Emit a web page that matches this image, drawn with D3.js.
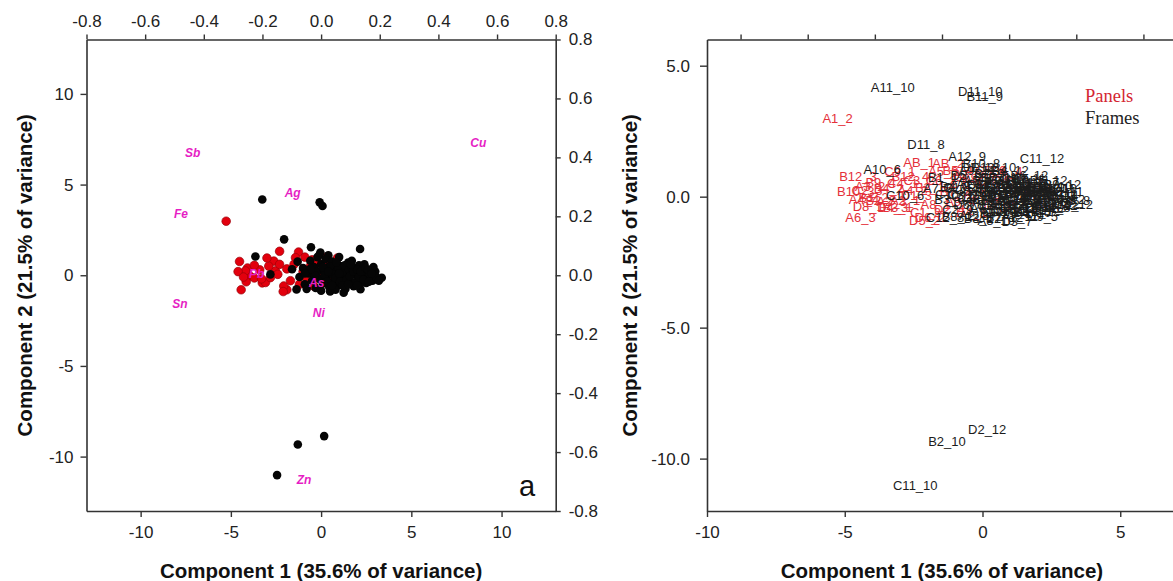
<!DOCTYPE html>
<html>
<head>
<meta charset="utf-8">
<script src="https://cdn.jsdelivr.net/npm/d3@7"></script>
<style>
  html, body { margin: 0; padding: 0; background: #ffffff; }
  svg { display: block; }
  .tick text { font-family: "Liberation Sans", Arial, sans-serif; fill: #222; }
  .tick line, .domain { stroke: #333; }
</style>
</head>
<body>
<svg id="chart" width="1173" height="581"></svg>
<script>
// PCA scores: wooden panels (red) and frames (black)
const panelLabels = ["A1_2","B12_3","A6_3","A3_2","B1_2","D8_1","D4_3","B12_4","AB_1","AB_2",
  "D6_2","B3_1","A2_1","C1_2","B2_3","A4_2","A5_3","C2_3","B5_4","A7_3",
  "C5_6","B6_4","D5_2","C3_2","B4_2","A2_3","C4_1","D1_3","B2_1","A8_1",
  "C6_3","D2_4","B7_2","A9_4","C7_3","D4_1","B8_3","A10_3","C8_4","D7_2",
  "B9_4","C9_1","B10_3","A4_4"];
const panelPC1 = [-5.26,-4.52,-4.43,-4.08,-3.95,-4.15,-3.26,-2.62,-2.30,-1.25,
  -1.90,-3.08,-2.81,-2.07,-3.70,-2.53,-1.42,-4.19,-0.90,-0.50,
  0.30,0.90,-2.10,-2.30,-3.40,-3.30,-2.90,-2.40,-1.90,-1.70,
  -1.50,-1.20,-1.00,-0.80,-0.60,-0.40,-0.20,0.00,0.40,0.60,
  -3.70,-3.00,-4.60,-4.30];
const panelPC2 = [2.98,0.76,-0.80,0.40,-0.04,-0.36,-0.42,0.78,1.32,1.28,
  -0.80,-0.40,-0.13,-0.59,-0.15,0.24,0.97,0.24,1.00,0.85,
  1.00,0.95,-0.90,0.60,0.30,-0.20,0.50,0.05,0.35,-0.30,
  0.60,-0.50,0.20,-0.20,0.50,-0.60,0.70,0.10,0.60,-0.30,
  0.55,0.95,0.20,-0.10];

const frameLabels = ["A11_10","D11_10","B11_9","D11_8","A12_9","C11_12","A10_6","D2_12","B2_10","C11_10",
  "C12_8","D3_7","D9_5","A8_8","D7_4","D12_6","B12_7","D12_10","D1_12","A9_10",
  "A7_9","C10_6","B10_8","B3_6","B4_8","C2_9","C3_7","D5_9","D6_8","A1_9",
  "A2_8","A3_10","A4_9","A5_10","A6_9","B1_10","B2_9","B3_10","B4_11","B5_9",
  "B6_10","B7_11","B8_9","B9_10","C1_11","C2_10","C3_11","C4_10","C5_9","C6_11",
  "C7_10","C8_11","C9_10","C10_9","C10_11","D1_9","D2_10","D3_9","D4_10","D5_11",
  "D6_10","D7_9","D8_11","D9_10","D10_9","D10_11","A1_11","A2_10","A3_11","A4_12",
  "A5_11","A6_12","A7_11","A8_10","A9_11","B1_12","B3_12","B4_12","B5_12","B6_12",
  "B7_12","B8_12","B9_12","B10_12",
  "C12_9","C12_10","C12_11","D12_9","D12_11","D12_12","A12_10","A12_11","A12_12","B12_9",
  "B12_10","B12_11","C12_12","D11_9","D11_11","D11_12","A11_9","A11_11","A11_12","B11_10",
  "B11_11","B11_12","C11_9","C11_11","C10_10","C10_12","D10_10","D10_12","A10_9","A10_11",
  "A10_12","B10_9","B10_10","B10_11","B9_11"];
const framePC1 = [-3.26,-0.08,0.08,-2.05,-0.56,2.16,-3.64,0.17,-1.29,-2.44,
  -1.36,1.25,2.18,3.36,2.92,2.50,2.10,0.40,-0.10,2.75,
  -1.61,-2.81,-0.04,-1.20,-1.00,-0.90,-0.70,-0.60,-0.50,-0.40,
  -0.30,-0.20,-0.10,0.00,0.10,0.15,0.25,0.30,0.40,0.45,
  0.55,0.60,0.70,0.75,0.85,0.90,0.95,1.05,1.10,1.15,
  1.25,1.30,1.40,1.45,1.50,1.60,1.65,1.75,1.80,1.90,
  1.95,2.05,2.15,2.25,2.30,2.40,2.55,2.60,2.70,2.85,
  3.00,3.05,1.35,0.50,-0.20,-1.30,0.00,1.00,2.40,1.70,
  0.80,-0.80,2.90,3.20,
  0.20,0.35,0.50,0.65,0.80,0.95,1.05,1.20,1.30,1.40,
  1.55,1.60,1.70,1.80,1.90,2.00,2.10,2.20,2.35,2.45,
  2.60,2.65,0.10,-0.35,-0.60,-0.90,1.00,1.20,0.60,1.50,
  2.00,0.40,0.85,1.65,2.80];
const framePC2 = [4.18,4.02,3.82,1.98,1.54,1.45,1.03,-8.87,-9.33,-11.02,
  -0.78,-0.96,-0.77,-0.14,0.05,-0.42,0.55,1.10,1.12,0.30,
  0.33,0.05,1.25,-0.10,0.40,-0.50,0.10,0.80,-0.30,0.45,
  -0.70,0.20,-0.20,0.60,-0.45,0.30,0.90,-0.10,0.45,-0.65,
  0.15,0.75,-0.30,0.35,-0.05,0.60,-0.55,0.25,-0.20,0.50,
  0.05,-0.45,0.35,-0.10,0.70,0.15,-0.35,0.40,-0.60,0.05,
  0.25,-0.25,0.10,-0.40,0.35,-0.05,0.15,-0.20,0.05,-0.30,
  0.20,-0.10,-0.75,-0.90,1.00,0.75,-0.85,1.00,0.60,0.80,
  -0.80,-0.75,0.45,-0.30,
  0.00,-0.35,0.50,0.05,-0.15,0.40,-0.35,0.15,0.55,-0.25,
  0.30,-0.05,0.45,0.20,-0.40,0.30,-0.10,0.20,-0.25,0.40,
  0.30,-0.35,0.45,0.00,0.35,0.10,0.10,-0.55,-0.55,-0.50,
  -0.55,0.20,0.70,0.60,0.10];

// Element loadings (top / right axes of the biplot)
const elements = ["Sb","Cu","Ag","Fe","Pb","As","Sn","Ni","Zn"];
const loadPC1 = [-0.438,0.536,-0.097,-0.478,-0.220,-0.015,-0.481,-0.008,-0.058];
const loadPC2 = [0.414,0.448,0.278,0.208,0.003,-0.025,-0.098,-0.127,-0.695];

// Tick values
const scoreTicks = [-10,-5,0,5,10];
const loadTicks = [-0.8,-0.6,-0.4,-0.2,0.0,0.2,0.4,0.6,0.8];
const rightYTicks = [-10,-5,0,5];
const rightXTicks = [-10,-5,0,5];
const rightTopTicks = [-0.6,-0.4,-0.2,0.0,0.2,0.4,0.6];

const xTitle = "Component 1 (35.6% of variance)";
const yTitle = "Component 2 (21.5% of variance)";
const legendItems = ["Panels","Frames"];

const panels = panelLabels.map((n,i) => ({name:n, pc1:panelPC1[i], pc2:panelPC2[i], group:"Panels"}));
const frames = frameLabels.map((n,i) => ({name:n, pc1:framePC1[i], pc2:framePC2[i], group:"Frames"}));
const loadings = elements.map((n,i) => ({name:n, x:loadPC1[i], y:loadPC2[i]}));

const svg = d3.select("#chart");
const fontSans = '"Liberation Sans", Arial, sans-serif';
const intFmt = d => String(d);          // plain hyphen for negatives
const oneDec = d => d.toFixed(1);

function styleAxis(g, size) {
  g.selectAll(".tick text").style("font-size", size + "px");
  g.selectAll(".tick line").attr("stroke-width", 1.4).attr("stroke", "#333");
  g.select(".domain").attr("stroke-width", 1.6).attr("stroke", "#333").attr("fill", "none");
}

// ---------- Left panel: biplot ----------
const L = {left: 86.5, right: 555.7, top: 39.5, bottom: 511};
const xL = d3.scaleLinear().domain([-13,13]).range([L.left, L.right]);
const yL = d3.scaleLinear().domain([-13,13]).range([L.bottom, L.top]);
const xLoad = d3.scaleLinear().domain([-0.8,0.8]).range([L.left, L.right]);
const yLoad = d3.scaleLinear().domain([-0.8,0.8]).range([L.bottom, L.top]);

const gl = svg.append("g");

gl.append("g").attr("transform", `translate(0,${L.bottom})`)
  .call(d3.axisBottom(xL).tickValues(scoreTicks).tickSize(6).tickSizeOuter(0).tickPadding(9).tickFormat(intFmt))
  .call(g => styleAxis(g, 17));
gl.append("g").attr("transform", `translate(${L.left},0)`)
  .call(d3.axisLeft(yL).tickValues(scoreTicks).tickSize(6).tickSizeOuter(0).tickPadding(7).tickFormat(intFmt))
  .call(g => styleAxis(g, 17));
gl.append("g").attr("transform", `translate(0,${L.top})`)
  .call(d3.axisTop(xLoad).tickValues(loadTicks).tickSize(5).tickSizeOuter(0).tickPadding(8).tickFormat(oneDec))
  .call(g => styleAxis(g, 17));
gl.append("g").attr("transform", `translate(${L.right},0)`)
  .call(d3.axisRight(yLoad).tickValues(loadTicks).tickSize(5).tickSizeOuter(0).tickPadding(8).tickFormat(oneDec))
  .call(g => styleAxis(g, 17));

// score points
gl.append("g").selectAll("circle").data(panels).join("circle")
  .attr("cx", d => xL(d.pc1)).attr("cy", d => yL(d.pc2)).attr("r", 4.3)
  .attr("fill", "#e2000d").attr("stroke", "#9a0008").attr("stroke-width", 0.7);
gl.append("g").selectAll("circle").data(frames).join("circle")
  .attr("cx", d => xL(d.pc1)).attr("cy", d => yL(d.pc2)).attr("r", 4.3)
  .attr("fill", "#050505");

// element loadings
gl.append("g").selectAll("text").data(loadings).join("text")
  .attr("x", d => xLoad(d.x)).attr("y", d => yLoad(d.y))
  .attr("text-anchor", "middle").attr("dominant-baseline", "central")
  .style("font-family", fontSans).style("font-size", "12px")
  .style("font-weight", "bold").style("font-style", "italic")
  .attr("fill", "#e61ec4").text(d => d.name);

gl.append("text").attr("x", 527).attr("y", 496).attr("text-anchor", "middle")
  .style("font-family", fontSans).style("font-size", "29px").attr("fill", "#111").text("a");

gl.append("text").attr("x", (L.left + L.right) / 2).attr("y", 578).attr("text-anchor", "middle")
  .style("font-family", fontSans).style("font-size", "20.5px").style("font-weight", "bold")
  .attr("fill", "#111").text(xTitle);
gl.append("text").attr("transform", `translate(32,${(L.top + L.bottom) / 2}) rotate(-90)`)
  .attr("text-anchor", "middle")
  .style("font-family", fontSans).style("font-size", "20.5px").style("font-weight", "bold")
  .attr("fill", "#111").text(yTitle);

// ---------- Right panel: labelled scores ----------
const R = {left: 707, right: 1177, top: 39.5, bottom: 511};
const xR = d3.scaleLinear().domain([-10, 7.06]).range([R.left, R.right]);
const yR = d3.scaleLinear().domain([-12, 6]).range([R.bottom, R.top]);
const xRTop = d3.scaleLinear().domain([-0.7, 0.7]).range([R.left, R.right]);

const gr = svg.append("g");
gr.append("g").attr("transform", `translate(0,${R.bottom})`)
  .call(d3.axisBottom(xR).tickValues(rightXTicks).tickSize(6).tickSizeOuter(0).tickPadding(9).tickFormat(intFmt))
  .call(g => styleAxis(g, 17));
gr.append("g").attr("transform", `translate(${R.left},0)`)
  .call(d3.axisLeft(yR).tickValues(rightYTicks).tickSize(7).tickSizeOuter(0).tickPadding(10).tickFormat(oneDec))
  .call(g => styleAxis(g, 17));
gr.append("g").attr("transform", `translate(0,${R.top})`)
  .call(d3.axisTop(xRTop).tickValues(rightTopTicks).tickSize(5).tickSizeOuter(0).tickFormat(""))
  .call(g => styleAxis(g, 17));
gr.append("g").attr("transform", `translate(${R.right},0)`)
  .call(d3.axisRight(yR).tickValues([]).tickSizeOuter(0))
  .call(g => styleAxis(g, 17));

gr.append("g").selectAll("text").data(panels).join("text")
  .attr("x", d => xR(d.pc1)).attr("y", d => yR(d.pc2))
  .attr("text-anchor", "middle").attr("dominant-baseline", "central")
  .style("font-family", fontSans).style("font-size", "13px")
  .attr("fill", "#e4303a").text(d => d.name);
gr.append("g").selectAll("text").data(frames).join("text")
  .attr("x", d => xR(d.pc1)).attr("y", d => yR(d.pc2))
  .attr("text-anchor", "middle").attr("dominant-baseline", "central")
  .style("font-family", fontSans).style("font-size", "13px")
  .attr("fill", "#1c1c1c").text(d => d.name);

// legend
gr.append("g").selectAll("text").data(legendItems).join("text")
  .attr("x", 1085).attr("y", (d, i) => 102 + i * 21.5)
  .style("font-family", '"Liberation Serif", "Times New Roman", serif').style("font-size", "18.5px")
  .attr("fill", (d, i) => i === 0 ? "#d42531" : "#222").text(d => d);

gr.append("text").attr("x", (R.left + R.right) / 2).attr("y", 578).attr("text-anchor", "middle")
  .style("font-family", fontSans).style("font-size", "20.5px").style("font-weight", "bold")
  .attr("fill", "#111").text(xTitle);
gr.append("text").attr("transform", `translate(637,${(R.top + R.bottom) / 2}) rotate(-90)`)
  .attr("text-anchor", "middle")
  .style("font-family", fontSans).style("font-size", "20.5px").style("font-weight", "bold")
  .attr("fill", "#111").text(yTitle);
</script>
</body>
</html>
